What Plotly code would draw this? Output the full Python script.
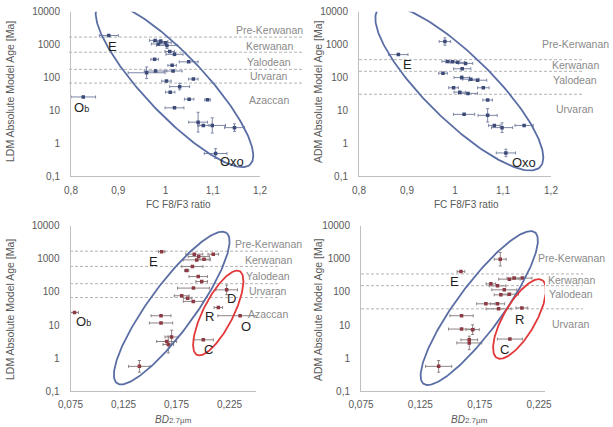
import numpy as np
import plotly.graph_objects as go

W, H = 613, 427

# ---------------- data ----------------
# Top-left: FC F8/F3 ratio vs LDM age
tl_x    = [0.880, 0.978, 0.990, 1.000, 0.985, 1.003, 1.009, 1.019, 0.977, 1.049, 1.014, 0.960, 0.979, 1.016,
           1.002, 1.059, 1.030, 1.010, 1.050, 1.089, 1.019, 1.069, 1.080, 1.099, 1.146, 1.106, 0.826]
tl_xerr = [0.020, 0.012, 0.015, 0.012, 0.015, 0.022, 0.010, 0.018, 0.008, 0.020, 0.009, 0.039, 0.024, 0.019,
           0.010, 0.010, 0.021, 0.010, 0.010, 0.006, 0.020, 0.020, 0.012, 0.028, 0.021, 0.024, 0.026]
tl_y    = [1900, 1350, 1250, 1150, 1050, 950, 620, 510, 360, 300, 235, 140, 158, 158,
           78, 90, 53, 36, 22, 21, 12, 4.4, 3.5, 3.5, 3.0, 0.49, 25.7]
tl_yf   = [1.0, 1.0, 1.15, 1.0, 1.0, 1.25, 1.0, 1.1, 1.0, 1.0, 1.0, 1.5, 1.0, 1.0,
           1.0, 1.0, 1.25, 1.0, 1.0, 1.0, 1.0, 2.0, 1.0, 1.7, 1.3, 1.4, 1.0]

# Top-right: FC F8/F3 ratio vs ADM age
tr_x    = [0.882, 0.979, 0.985, 0.995, 1.005, 1.022, 1.015, 0.975, 1.014, 1.033, 1.047, 0.997, 1.059,
           1.010, 1.027, 1.068, 1.019, 1.068, 1.082, 1.098, 1.144, 1.106]
tr_xerr = [0.020, 0.012, 0.012, 0.015, 0.015, 0.015, 0.018, 0.009, 0.016, 0.017, 0.019, 0.010, 0.012,
           0.012, 0.020, 0.010, 0.022, 0.020, 0.012, 0.022, 0.019, 0.020]
tr_y    = [500, 1250, 310, 300, 290, 270, 185, 135, 100, 89, 83, 49, 49,
           36, 33, 20.7, 7.6, 7.1, 3.5, 3.0, 3.5, 0.51]
tr_yf   = [1.0, 1.3, 1.0, 1.0, 1.0, 1.0, 1.0, 1.0, 1.1, 1.0, 1.0, 1.0, 1.0,
           1.0, 1.0, 1.0, 1.0, 1.6, 1.0, 1.4, 1.0, 1.3]

# Bottom-left: BD2.7um vs LDM age
bl_x    = [0.161, 0.1918, 0.196, 0.201, 0.2097, 0.194, 0.190, 0.1846, 0.1955, 0.1988, 0.191, 0.1799, 0.1855,
           0.1908, 0.2223, 0.2145, 0.235, 0.1604, 0.1604, 0.0788, 0.1704, 0.1657, 0.1673, 0.2003, 0.140]
bl_xerr = [0.003, 0.008, 0.010, 0.006, 0.005, 0.0125, 0.010, 0.002, 0.0087, 0.0055, 0.015, 0.007, 0.004,
           0.0094, 0.0102, 0.004, 0.021, 0.0094, 0.011, 0.0036, 0.0063, 0.0094, 0.005, 0.0094, 0.0102]
bl_y    = [1650, 1380, 1170, 975, 1380, 930, 585, 443, 292, 207, 131, 77, 65,
           52, 116, 34, 19.2, 19.2, 11.6, 24, 4.4, 3.2, 2.6, 3.6, 0.57]
bl_yf   = [1.0, 1.0, 1.0, 1.0, 1.0, 1.0, 1.0, 1.0, 1.0, 1.0, 1.0, 1.0, 1.0,
           1.0, 1.4, 1.0, 1.0, 1.0, 1.0, 1.0, 1.6, 1.0, 1.8, 1.0, 1.5]

# Bottom-right: BD2.7um vs ADM age
br_x    = [0.1592, 0.1923, 0.200, 0.204, 0.211, 0.1844, 0.190, 0.1957, 0.200, 0.1928, 0.1802, 0.190, 0.1909,
           0.2105, 0.1597, 0.1597, 0.169, 0.1662, 0.1662, 0.2004, 0.1404]
br_xerr = [0.0032, 0.005, 0.009, 0.006, 0.008, 0.004, 0.007, 0.0105, 0.0077, 0.0056, 0.0077, 0.006, 0.0105,
           0.005, 0.0098, 0.011, 0.0056, 0.007, 0.0105, 0.0105, 0.011]
br_y    = [413, 975, 244, 262, 262, 176, 153, 116, 86, 82, 44, 44, 31,
           33, 19.2, 7.6, 7.3, 3.6, 2.9, 3.8, 0.57]
br_yf   = [1.0, 1.6, 1.0, 1.0, 1.0, 1.0, 1.0, 1.0, 1.0, 1.0, 1.0, 1.0, 1.0,
           1.0, 1.0, 1.0, 1.4, 1.0, 1.6, 1.0, 1.5]

# stratigraphic systems
ldm_epochs = ["Pre-Kerwanan", "Kerwanan", "Yalodean", "Urvaran", "Azaccan"]
ldm_label_y = [2800, 930, 300, 110, 21]
ldm_bounds = [1700, 590, 178, 68]
adm_epochs = ["Pre-Kerwanan", "Kerwanan", "Yalodean", "Urvaran"]
adm_label_y = [1060, 238, 85, 10.8]
adm_bounds = [350, 155, 31]

y_tickvals = [0.1, 1, 10, 100, 1000, 10000]
y_ticktext = ["0,1", "1", "10", "100", "1000", "10000"]
fc_tickvals = [0.8, 0.9, 1.0, 1.1, 1.2]
fc_ticktext = ["0,8", "0,9", "1", "1,1", "1,2"]
bd_tickvals = [0.075, 0.125, 0.175, 0.225]
bd_ticktext = ["0,075", "0,125", "0,175", "0,225"]

# crater/unit letters: (panel, text, x, y)
letters = [
    (1, "E", 0.887, 877), (1, "O<span style='font-size:9px'>b</span>", 0.822, 12.2), (1, "Oxo", 1.14, 0.283),
    (2, "E", 0.901, 245), (2, "Oxo", 1.144, 0.259),
    (3, "E", 0.153, 826), (3, "O<span style='font-size:9px'>b</span>", 0.0876, 12.9), (3, "D", 0.227, 65.5),
    (3, "R", 0.206, 18.3), (3, "O", 0.241, 9.1), (3, "C", 0.205, 1.82),
    (4, "E", 0.1535, 207), (4, "R", 0.2083, 14.6), (4, "C", 0.1956, 1.82),
]

# ellipses: (panel, centre x, centre y, semi-major px, semi-minor px, screen angle deg, colour)
BLUE, RED = "#5a6ea5", "#e2383a"
ellipses = [
    (1, 1.019, 60.7, 110, 30, -46.5, BLUE),
    (2, 1.009, 48.2, 113, 33, -44.4, BLUE),
    (3, 0.1705, 32.7, 93, 23, 53.9, BLUE),
    (3, 0.2144, 23.2, 47, 15, 63.0, RED),
    (4, 0.1746, 32.7, 94, 23, 53.7, BLUE),
    (4, 0.2085, 15.3, 45, 16, 60.0, RED),
]

# ---------------- layout geometry (pixels) ----------------
panels = {
    1: dict(px=(71, 260), py=(11.8, 176.2), xr=(0.8, 1.2)),
    2: dict(px=(359, 551), py=(11.8, 176.2), xr=(0.8, 1.2)),
    3: dict(px=(70.5, 256), py=(225.7, 391.4), xr=(0.075, 0.25)),
    4: dict(px=(361, 545), py=(225.7, 391.4), xr=(0.075, 0.23)),
}
YR = (-1, 4)

fig = go.Figure()

TOP_MK, TOP_ERR = "#3c4a78", "#7c86a6"
BOT_MK, BOT_ERR = "#8e3a45", "#8f8384"


def ax(n, k):
    return k if n == 1 else f"{k}{n}"


def add_points(n, xs, xe, ys, yf, mk, ec):
    ys = np.array(ys, dtype=float)
    yf = np.array(yf, dtype=float)
    fig.add_trace(go.Scatter(
        x=xs, y=ys, mode="markers", xaxis=ax(n, "x"), yaxis=ax(n, "y"),
        marker=dict(symbol="square", size=3.5, color=mk),
        error_x=dict(type="data", array=xe, color=ec, thickness=1, width=1.5),
        error_y=dict(type="data", symmetric=False, array=list(ys * (yf - 1)),
                     arrayminus=list(ys * (1 - 1 / yf)), color=ec, thickness=1, width=1.5),
        showlegend=False, hoverinfo="skip"))


add_points(1, tl_x, tl_xerr, tl_y, tl_yf, TOP_MK, TOP_ERR)
add_points(2, tr_x, tr_xerr, tr_y, tr_yf, TOP_MK, TOP_ERR)
add_points(3, bl_x, bl_xerr, bl_y, bl_yf, BOT_MK, BOT_ERR)
add_points(4, br_x, br_xerr, br_y, br_yf, BOT_MK, BOT_ERR)

# ellipses, computed in screen space and mapped back through each panel's scale
t = np.linspace(0, 2 * np.pi, 240)
for n, cx, cy, a, b, ang, col in ellipses:
    p = panels[n]
    sx = (p["px"][1] - p["px"][0]) / (p["xr"][1] - p["xr"][0])
    sy = (p["py"][1] - p["py"][0]) / (YR[1] - YR[0])
    th = np.radians(ang)
    u, v = a * np.cos(t), b * np.sin(t)
    dx = u * np.cos(th) - v * np.sin(th)
    dup = u * np.sin(th) + v * np.cos(th)
    ex = cx + dx / sx
    ey = 10 ** (np.log10(cy) + dup / sy)
    fig.add_trace(go.Scatter(x=ex, y=ey, mode="lines", line=dict(color=col, width=1.8),
                             xaxis=ax(n, "x"), yaxis=ax(n, "y"),
                             showlegend=False, hoverinfo="skip"))

FONT = "Liberation Sans, Arial, sans-serif"
axis_font = dict(family=FONT, size=10, color="#595959")

for n, p in panels.items():
    xd = [p["px"][0] / W, p["px"][1] / W]
    yd = [1 - p["py"][1] / H, 1 - p["py"][0] / H]
    fc = n in (1, 2)
    fig.layout[ax(n, "xaxis")] = dict(domain=xd, range=list(p["xr"]), anchor=ax(n, "y"),
                                      tickvals=fc_tickvals if fc else bd_tickvals,
                                      ticktext=fc_ticktext if fc else bd_ticktext,
                                      showline=True, linecolor="#bfbfbf", linewidth=1, showgrid=False,
                                      zeroline=False, ticks="", tickfont=axis_font,
                                      ticklabelstandoff=5 if fc else 4, automargin=False)
    fig.layout[ax(n, "yaxis")] = dict(domain=yd, type="log", range=list(YR), anchor=ax(n, "x"),
                                      tickvals=y_tickvals, ticktext=y_ticktext,
                                      showline=True, linecolor="#bfbfbf", linewidth=1, showgrid=False,
                                      zeroline=False, ticks="", tickfont=axis_font, ticklabelstandoff=8,
                                      automargin=False)

shapes = []
annotations = []
line_ext = {1: (69, 302), 2: (359, 582), 3: (70, 278), 4: (361, 583)}
label_x = {1: 269, 2: 575, 3: 268, 4: 571}
for n in panels:
    ldm = n in (1, 3)
    bounds = ldm_bounds if ldm else adm_bounds
    yref = ax(n, "y")
    for bv in bounds:
        shapes.append(dict(type="line", xref="paper", yref=yref, x0=line_ext[n][0] / W, x1=line_ext[n][1] / W,
                           y0=bv, y1=bv, line=dict(color="#b3b3b3", width=1, dash="3px,2px"), layer="below"))
    names = ldm_epochs if ldm else adm_epochs
    ly = ldm_label_y if ldm else adm_label_y
    for nm, yv in zip(names, ly):
        annotations.append(dict(text=nm, xref="paper", yref=yref, x=label_x[n] / W, y=np.log10(yv),
                                showarrow=False, xanchor="center", yanchor="middle",
                                font=dict(family=FONT, size=10.5, color="#8a8a8a")))

for n, txt, xv, yv in letters:
    annotations.append(dict(text=txt, xref=ax(n, "x"), yref=ax(n, "y"),
                            x=xv, y=np.log10(yv), showarrow=False, xanchor="center", yanchor="middle",
                            font=dict(family=FONT, size=13, color="#1e1e1e")))

# axis titles
title_font = dict(family=FONT, size=10, color="#595959")
for (xp, yp, txt) in [(178, 204, "FC F8/F3 ratio"), (466, 204, "FC F8/F3 ratio")]:
    annotations.append(dict(text=txt, xref="paper", yref="paper", x=xp / W, y=1 - yp / H,
                            xanchor="center", yanchor="middle", showarrow=False, font=title_font))
bd_title = "<i>BD</i><span style='font-size:8px'>2.7µm</span>"
for xp in (173, 469):
    annotations.append(dict(text=bd_title, xref="paper", yref="paper", x=xp / W, y=1 - 419 / H,
                            xanchor="center", yanchor="middle", showarrow=False, font=title_font))
ytitle_font = dict(family=FONT, size=10.5, color="#595959")
for (xp, yp, txt) in [(10, 92, "LDM Absolute Model Age [Ma]"), (318, 92, "ADM Absolute Model Age [Ma]"),
                      (10, 310, "LDM Absolute Model Age [Ma]"), (318, 310, "ADM Absolute Model Age [Ma]")]:
    annotations.append(dict(text=txt, xref="paper", yref="paper", x=xp / W, y=1 - yp / H, textangle=-90,
                            xanchor="center", yanchor="middle", showarrow=False, font=ytitle_font))

fig.update_layout(width=W, height=H, margin=dict(l=0, r=0, t=0, b=0, pad=0), autosize=False,
                  paper_bgcolor="white", plot_bgcolor="white", shapes=shapes, annotations=annotations)

fig.write_html("out.html", config={"displayModeBar": False},
               post_script="document.body.style.margin='0';document.body.style.overflow='hidden';")
